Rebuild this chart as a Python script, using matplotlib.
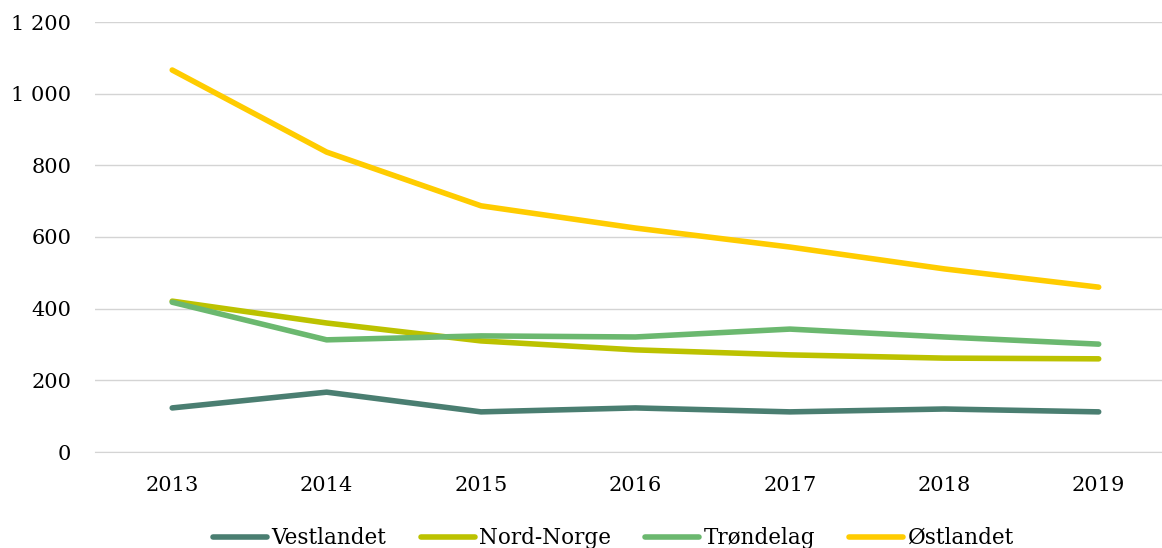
import numpy as np
import matplotlib.pyplot as plt
from matplotlib.ticker import FuncFormatter

years = ["2013", "2014", "2015", "2016", "2017", "2018", "2019"]
vestlandet = [123, 167, 112, 123, 112, 120, 112]
nord_norge = [421, 360, 310, 285, 271, 262, 260]
trondelag = [418, 313, 324, 321, 343, 321, 301]
ostlandet = [1066, 837, 687, 625, 572, 511, 460]

series = [
    ("Vestlandet", vestlandet, "#4a7e71"),
    ("Nord-Norge", nord_norge, "#bcc200"),
    ("Trøndelag", trondelag, "#6bb86f"),
    ("Østlandet", ostlandet, "#ffcc00"),
]

plt.rcParams["font.family"] = ["DejaVu Serif"]

fig = plt.figure(figsize=(11.62, 5.48), dpi=100)
ax = fig.add_axes([95 / 1162, 1 - 452 / 548, 1067 / 1162, 430 / 548])

x = np.arange(len(years))
for name, vals, col in series:
    ax.plot(x, vals, color=col, lw=4, solid_capstyle="round",
            solid_joinstyle="round", label=name)

ax.set_ylim(0, 1200)
ax.set_xlim(-0.5, 6.41)
ax.set_yticks(np.arange(0, 1201, 200))
ax.yaxis.set_major_formatter(FuncFormatter(lambda v, p: f"{int(v):,}".replace(",", " ")))
ax.set_xticks(x)
ax.set_xticklabels(years)
ax.grid(axis="y", color="#d4d4d4", lw=1)
ax.set_axisbelow(True)
for s in ["top", "right", "left"]:
    ax.spines[s].set_visible(False)
ax.spines["bottom"].set_color("#d4d4d4")
ax.tick_params(length=0, labelsize=15, colors="black")
ax.tick_params(axis="y", pad=17)
ax.tick_params(axis="x", pad=17)

fig.legend(loc="center", bbox_to_anchor=(0.528, 0.018), ncol=4, frameon=False,
           fontsize=15.5, handlelength=2.5, handletextpad=0.2, columnspacing=1.6)

fig.savefig("out.png", dpi=100)
